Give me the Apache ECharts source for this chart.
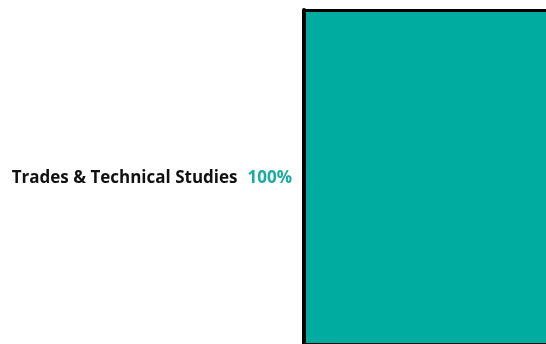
<!DOCTYPE html>
<html>
<head>
    <meta charset="UTF-8">
    <title>echarts</title>
    <style>
        html, body { margin: 0; padding: 0; background: #fff; }
        #chart { width: 546px; height: 344px; }
    </style>
    <script src="https://cdn.jsdelivr.net/npm/echarts@6/dist/echarts.min.js"></script>
</head>
<body>
<div id="chart"></div>
<script>
    const categories = ['Trades & Technical Studies'];
    const shares = [100];

    let myChart = echarts.init(document.getElementById('chart'), null, {renderer: 'canvas'});

    // frame lines: top and bottom x axes, left category axis
    const hAxis = (pos, w) => ({
        type: 'value',
        position: pos,
        min: 0,
        max: 100,
        z: 5,
        axisLine: {show: true, lineStyle: {color: '#000', width: w}},
        axisTick: {show: false},
        axisLabel: {show: false},
        splitLine: {show: false}
    });

    let option = {
        animation: false,
        grid: {left: 304, right: 0, top: 10, bottom: 0},
        xAxis: [hAxis('top', 3), hAxis('bottom', 2)],
        yAxis: {
            type: 'category',
            data: categories,
            z: 5,
            axisLine: {show: true, lineStyle: {color: '#000', width: 4}},
            axisTick: {show: false},
            axisLabel: {
                margin: 12,
                formatter: (v, i) => '{a|' + v + '}{b|' + shares[i] + '%}',
                rich: {
                    a: {fontFamily: 'Open Sans', fontWeight: 'bold', fontSize: 17, color: '#111', padding: [3, 10, 0, 0]},
                    b: {fontFamily: 'Open Sans', fontWeight: 'bold', fontSize: 17, color: '#1aaca0', padding: [3, 0, 0, 0]}
                }
            }
        },
        series: [{
            type: 'bar',
            data: shares,
            barCategoryGap: '0%',
            itemStyle: {color: '#00aba0'}
        }]
    };
    myChart.setOption(option);
</script>
</body>
</html>
